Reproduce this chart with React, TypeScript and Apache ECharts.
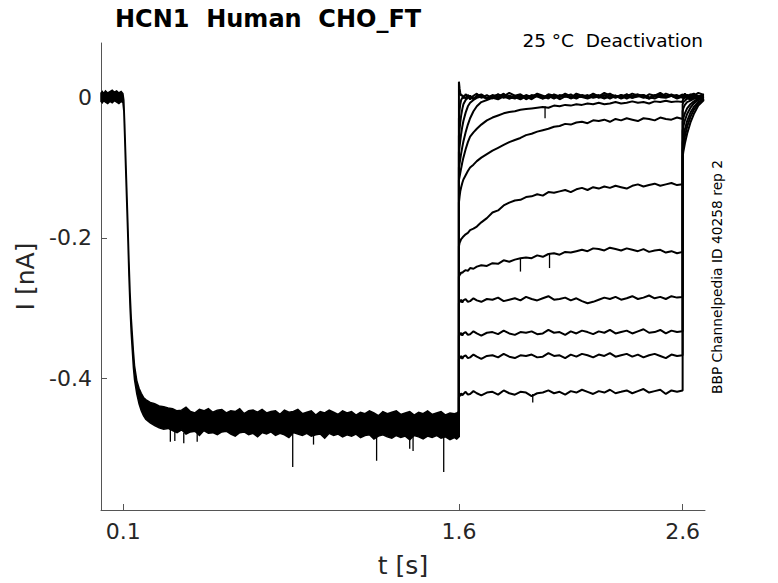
import React, { useEffect, useRef } from "react";
import * as echarts from "echarts";

const TITLE = "HCN1  Human  CHO_FT";
const SUBTITLE = "25 °C  Deactivation";
const SIDE_NOTE = "BBP Channelpedia ID 40258 rep 2";
const X_NAME = "t [s]";
const Y_NAME = "I [nA]";

const X_TICKS = [0.1, 1.6, 2.6];
const X_TICK_LABELS = ["0.1", "1.6", "2.6"];
const Y_TICKS = [-0.4, -0.2, 0];
const Y_TICK_LABELS = ["-0.4", "-0.2", "0"];
const X_RANGE = [0, 2.7];
const Y_RANGE = [-0.587, 0.077];

// common part of all sweeps (0 .. 1.6 s): noisy band, upper and lower edge
const HOLD_T = [
  0, 0.006, 0.012, 0.02, 0.03, 0.04, 0.05, 0.06, 0.07, 0.08, 0.09, 0.098,
  0.102, 0.106, 0.11, 0.115, 0.12, 0.125, 0.13, 0.135, 0.14, 0.145, 0.15, 0.16, 0.17, 0.18, 0.19, 0.2, 0.22, 0.24, 0.26, 0.28, 0.3,
  0.32, 0.34, 0.36, 0.38, 0.4, 0.42, 0.44, 0.46, 0.48, 0.5, 0.52, 0.54, 0.56, 0.58, 0.6, 0.62, 0.64, 0.66, 0.68, 0.7,
  0.72, 0.74, 0.76, 0.78, 0.8, 0.82, 0.84, 0.86, 0.88, 0.9, 0.92, 0.94, 0.96, 0.98, 1.0, 1.02, 1.04, 1.06, 1.08, 1.1,
  1.12, 1.14, 1.16, 1.18, 1.2, 1.22, 1.24, 1.26, 1.28, 1.3, 1.32, 1.34, 1.36, 1.38, 1.4, 1.42, 1.44, 1.46, 1.48, 1.5,
  1.52, 1.54, 1.56, 1.58, 1.59, 1.6,
];
const HOLD_HI = [
  0.006, 0.008, 0.005, 0.009, 0.006, 0.008, 0.01, 0.007, 0.009, 0.006, 0.008, 0.005,
  -0.004, -0.038, -0.078, -0.128, -0.178, -0.232, -0.278, -0.313, -0.338, -0.362, -0.382, -0.403, -0.414, -0.421, -0.427, -0.43, -0.434, -0.436, -0.439, -0.44, -0.442,
  -0.443, -0.446, -0.445, -0.441, -0.447, -0.449, -0.444, -0.446, -0.443, -0.448,
  -0.445, -0.444, -0.449, -0.446, -0.447, -0.443, -0.45, -0.446, -0.445, -0.448,
  -0.444, -0.449, -0.447, -0.446, -0.451, -0.445, -0.448, -0.447, -0.444, -0.45,
  -0.448, -0.446, -0.452, -0.447, -0.449, -0.445, -0.448, -0.451, -0.446, -0.449,
  -0.447, -0.452, -0.448, -0.45, -0.446, -0.449, -0.453, -0.447, -0.45, -0.448,
  -0.446, -0.451, -0.449, -0.447, -0.452, -0.448, -0.45, -0.446, -0.451, -0.449,
  -0.447, -0.452, -0.449, -0.45, -0.449, -0.447,
];
const HOLD_LO = [
  -0.006, -0.008, -0.005, -0.007, -0.009, -0.006, -0.008, -0.005, -0.007, -0.009, -0.006, -0.008,
  -0.02, -0.058, -0.1, -0.15, -0.2, -0.255, -0.3, -0.335, -0.36, -0.385, -0.402, -0.422, -0.436, -0.446, -0.453, -0.458, -0.463, -0.467, -0.47, -0.472, -0.471,
  -0.474, -0.477, -0.473, -0.479, -0.476, -0.475, -0.481, -0.474, -0.478, -0.477,
  -0.48, -0.476, -0.475, -0.479, -0.482, -0.477, -0.476, -0.48, -0.478, -0.483,
  -0.477, -0.479, -0.476, -0.481, -0.478, -0.48, -0.484, -0.477, -0.479, -0.481,
  -0.478, -0.482, -0.48, -0.479, -0.485, -0.478, -0.481, -0.479, -0.483, -0.48,
  -0.482, -0.479, -0.484, -0.481, -0.48, -0.486, -0.482, -0.48, -0.483, -0.485,
  -0.481, -0.484, -0.482, -0.487, -0.481, -0.483, -0.486, -0.482, -0.484, -0.481,
  -0.485, -0.483, -0.487, -0.484, -0.486, -0.483,
];

// brief glitches: time, from, to
const SPIKE_T = [0.31, 0.33, 0.37, 0.43, 0.857, 0.95, 1.232, 1.38, 1.395, 1.532, 1.875, 1.93, 1.985, 2.005];
const SPIKE_FROM = [-0.472, -0.475, -0.477, -0.478, -0.478, -0.48, -0.482, -0.482, -0.483, -0.484, -0.229, -0.422, -0.013, -0.223];
const SPIKE_TO = [-0.49, -0.489, -0.492, -0.49, -0.526, -0.494, -0.517, -0.5, -0.503, -0.533, -0.248, -0.434, -0.03, -0.243];

// test pulse (1.6 .. 2.6 s)
const TAIL_T = [
  1.6, 1.603, 1.606, 1.61, 1.615, 1.62, 1.63, 1.64, 1.65, 1.665, 1.68, 1.7,
  1.725, 1.75, 1.775, 1.8, 1.825, 1.85, 1.875, 1.9, 1.925, 1.95, 1.975, 2.0,
  2.025, 2.05, 2.075, 2.1, 2.125, 2.15, 2.175, 2.2, 2.225, 2.25, 2.275, 2.3,
  2.325, 2.35, 2.375, 2.4, 2.425, 2.45, 2.475, 2.5, 2.525, 2.55, 2.575, 2.6,
];
// after the pulse (2.6 .. 2.7 s)
const POST_T = [2.6, 2.603, 2.61, 2.62, 2.635, 2.65, 2.67, 2.695];

const TAIL_A = [0.022, 0.012, 0.006, 0.002, 0.003, -0.002, 0.004, 0.001, -0.003, 0.002, 0.005, -0.001, 0.003, -0.002, 0.004, 0.001, 0.006, 0.002, -0.001, 0.003, 0.0, 0.005, 0.002, -0.002, 0.004, 0.001, 0.003, -0.001, 0.005, 0.002, 0.0, 0.004, 0.001, 0.006, 0.002, -0.001, 0.003, 0.001, 0.005, 0.002, -0.001, 0.004, 0.002, 0.006, 0.001, 0.003, 0.0, 0.004];
const POST_A = [0.004, 0.002, 0.005, 0.001, 0.004, 0.002, 0.006, 0.003];
const TAIL_B = [-0.03, -0.018, -0.01, -0.004, -0.001, 0.002, -0.002, 0.003, 0.0, -0.003, 0.002, 0.004, -0.001, 0.003, 0.0, 0.005, -0.002, 0.002, 0.004, -0.001, 0.003, 0.001, -0.002, 0.004, 0.002, 0.0, 0.005, 0.001, -0.002, 0.003, 0.001, 0.004, -0.001, 0.002, 0.005, 0.0, 0.003, -0.002, 0.002, 0.004, 0.001, -0.001, 0.003, 0.0, 0.005, 0.002, -0.001, 0.003];
const POST_B = [0.003, 0.001, 0.004, 0.0, 0.003, 0.005, 0.001, 0.004];
const TAIL_C = [-0.055, -0.045, -0.036, -0.026, -0.017, -0.01, -0.004, -0.001, 0.002, -0.002, 0.001, 0.003, -0.002, 0.001, 0.004, -0.001, 0.002, 0.0, 0.003, -0.003, 0.001, 0.004, 0.0, 0.002, -0.002, 0.003, 0.001, 0.004, -0.001, 0.002, 0.0, 0.005, 0.001, -0.002, 0.003, 0.002, -0.001, 0.004, 0.0, 0.002, 0.003, -0.002, 0.001, 0.004, 0.0, 0.002, 0.003, -0.001];
const POST_C = [-0.001, 0.002, 0.0, 0.003, 0.001, 0.004, 0.0, 0.002];
const TAIL_D = [-0.078, -0.07, -0.062, -0.052, -0.042, -0.034, -0.022, -0.013, -0.008, -0.004, -0.001, 0.001, -0.002, 0.002, -0.001, 0.003, 0.0, -0.002, 0.002, 0.001, -0.003, 0.002, 0.0, 0.003, -0.001, 0.001, 0.004, -0.002, 0.002, 0.0, 0.003, -0.001, 0.001, 0.003, -0.002, 0.002, 0.0, 0.004, -0.001, 0.001, 0.003, 0.0, -0.002, 0.002, 0.001, 0.004, -0.001, 0.002];
const POST_D = [0.002, -0.001, 0.001, 0.003, 0.0, 0.002, -0.001, 0.002];
const TAIL_E = [-0.1, -0.094, -0.088, -0.08, -0.071, -0.063, -0.05, -0.039, -0.03, -0.02, -0.013, -0.007, -0.004, -0.001, -0.003, 0.001, -0.002, 0.0, -0.003, 0.001, -0.001, 0.002, -0.002, 0.0, 0.002, -0.003, 0.001, -0.001, 0.002, 0.0, -0.002, 0.001, 0.003, -0.001, 0.0, 0.002, -0.002, 0.001, -0.001, 0.003, 0.0, -0.002, 0.002, 0.0, -0.001, 0.002, -0.002, 0.001];
const POST_E = [0.001, -0.002, 0.0, 0.002, -0.001, 0.001, 0.002, 0.0];
const TAIL_F = [-0.118, -0.113, -0.108, -0.101, -0.093, -0.086, -0.074, -0.064, -0.056, -0.05, -0.045, -0.039, -0.033, -0.029, -0.026, -0.023, -0.021, -0.02, -0.018, -0.017, -0.016, -0.015, -0.014, -0.015, -0.012, -0.013, -0.011, -0.012, -0.01, -0.011, -0.009, -0.01, -0.008, -0.01, -0.009, -0.007, -0.009, -0.008, -0.006, -0.008, -0.007, -0.009, -0.006, -0.007, -0.005, -0.007, -0.006, -0.007];
const POST_F = [-0.005, -0.003, -0.001, 0.001, -0.002, 0.001, -0.001, 0.001];
const TAIL_G = [-0.15, -0.141, -0.134, -0.128, -0.122, -0.117, -0.111, -0.105, -0.1, -0.096, -0.091, -0.086, -0.081, -0.076, -0.072, -0.068, -0.064, -0.061, -0.058, -0.054, -0.052, -0.049, -0.047, -0.045, -0.042, -0.041, -0.038, -0.039, -0.036, -0.035, -0.037, -0.033, -0.034, -0.032, -0.035, -0.031, -0.033, -0.03, -0.032, -0.034, -0.03, -0.031, -0.033, -0.029, -0.031, -0.032, -0.029, -0.031];
const POST_G = [-0.01, -0.007, -0.005, -0.002, -0.003, 0.0, -0.002, 0.001];
const TAIL_H = [-0.212, -0.207, -0.205, -0.202, -0.2, -0.198, -0.195, -0.193, -0.189, -0.187, -0.184, -0.178, -0.172, -0.164, -0.161, -0.154, -0.15, -0.147, -0.146, -0.142, -0.141, -0.138, -0.14, -0.135, -0.136, -0.134, -0.132, -0.135, -0.131, -0.129, -0.132, -0.128, -0.13, -0.127, -0.129, -0.126, -0.128, -0.13, -0.126, -0.124, -0.127, -0.125, -0.123, -0.126, -0.124, -0.122, -0.125, -0.124];
const POST_H = [-0.02, -0.016, -0.011, -0.007, -0.005, -0.002, -0.003, 0.0];
const TAIL_I = [-0.255, -0.253, -0.252, -0.249, -0.25, -0.248, -0.246, -0.247, -0.243, -0.244, -0.241, -0.239, -0.24, -0.236, -0.237, -0.232, -0.234, -0.231, -0.229, -0.228, -0.229, -0.225, -0.227, -0.223, -0.222, -0.224, -0.22, -0.221, -0.219, -0.217, -0.219, -0.215, -0.216, -0.218, -0.214, -0.216, -0.218, -0.215, -0.217, -0.219, -0.216, -0.22, -0.218, -0.217, -0.221, -0.219, -0.222, -0.22];
const POST_I = [-0.035, -0.03, -0.023, -0.016, -0.01, -0.006, -0.003, -0.001];
const TAIL_J = [-0.293, -0.29, -0.291, -0.288, -0.292, -0.289, -0.287, -0.291, -0.29, -0.286, -0.289, -0.291, -0.287, -0.288, -0.285, -0.29, -0.288, -0.286, -0.289, -0.284, -0.287, -0.289, -0.286, -0.283, -0.288, -0.287, -0.285, -0.289, -0.286, -0.29, -0.293, -0.291, -0.288, -0.285, -0.287, -0.284, -0.288, -0.286, -0.283, -0.287, -0.285, -0.282, -0.286, -0.284, -0.287, -0.283, -0.285, -0.284];
const POST_J = [-0.048, -0.042, -0.033, -0.024, -0.015, -0.009, -0.004, -0.001];
const TAIL_K = [-0.339, -0.337, -0.338, -0.335, -0.339, -0.336, -0.334, -0.338, -0.337, -0.333, -0.336, -0.339, -0.335, -0.334, -0.337, -0.332, -0.336, -0.338, -0.334, -0.335, -0.333, -0.337, -0.336, -0.331, -0.335, -0.334, -0.338, -0.333, -0.336, -0.332, -0.334, -0.337, -0.333, -0.335, -0.331, -0.336, -0.334, -0.332, -0.336, -0.333, -0.33, -0.335, -0.334, -0.331, -0.336, -0.332, -0.334, -0.333];
const POST_K = [-0.065, -0.058, -0.046, -0.034, -0.022, -0.014, -0.007, -0.002];
const TAIL_L = [-0.372, -0.37, -0.371, -0.368, -0.372, -0.369, -0.367, -0.371, -0.37, -0.366, -0.369, -0.372, -0.368, -0.367, -0.37, -0.365, -0.369, -0.371, -0.367, -0.368, -0.366, -0.37, -0.369, -0.364, -0.368, -0.367, -0.371, -0.366, -0.369, -0.365, -0.367, -0.37, -0.366, -0.368, -0.364, -0.369, -0.367, -0.365, -0.369, -0.366, -0.37, -0.367, -0.365, -0.368, -0.371, -0.366, -0.368, -0.367];
const POST_L = [-0.075, -0.068, -0.056, -0.042, -0.028, -0.018, -0.009, -0.003];
const TAIL_M = [-0.427, -0.424, -0.425, -0.421, -0.424, -0.422, -0.419, -0.423, -0.422, -0.418, -0.421, -0.424, -0.42, -0.419, -0.423, -0.417, -0.421, -0.423, -0.419, -0.42, -0.425, -0.421, -0.42, -0.417, -0.421, -0.419, -0.423, -0.418, -0.42, -0.416, -0.419, -0.422, -0.418, -0.42, -0.416, -0.421, -0.419, -0.417, -0.421, -0.418, -0.415, -0.42, -0.418, -0.416, -0.422, -0.417, -0.419, -0.417];
const POST_M = [-0.085, -0.078, -0.066, -0.052, -0.036, -0.024, -0.012, -0.004];

const SWEEPS: [number[], number[]][] = [
  [TAIL_A, POST_A], [TAIL_B, POST_B], [TAIL_C, POST_C], [TAIL_D, POST_D],
  [TAIL_E, POST_E], [TAIL_F, POST_F], [TAIL_G, POST_G], [TAIL_H, POST_H],
  [TAIL_I, POST_I], [TAIL_J, POST_J], [TAIL_K, POST_K], [TAIL_L, POST_L],
  [TAIL_M, POST_M],
];

const FONT = "DejaVu Sans";
const INK = "#262626";

export default function App() {
  const ref = useRef<HTMLDivElement>(null);

  useEffect(() => {
    if (!ref.current) return;
    const chart = echarts.init(ref.current, undefined, { renderer: "svg" });
    const last = HOLD_T.length - 1;

    const sweepSeries = SWEEPS.map(([tail, post], k) => ({
      type: "line",
      name: "sweep" + k,
      showSymbol: false,
      silent: true,
      lineStyle: { color: "#000", width: 2 },
      data: [
        [HOLD_T[last], HOLD_LO[last]],
        ...tail.map((v, i) => [TAIL_T[i], v]),
        ...post.map((v, i) => [POST_T[i], v]),
      ],
      z: 3,
    }));

    chart.setOption({
      animation: false,
      backgroundColor: "#fff",
      grid: { left: 101, right: 73, top: 43, bottom: 72, containLabel: false },
      xAxis: {
        type: "value",
        min: X_RANGE[0],
        max: X_RANGE[1],
        name: X_NAME,
        nameLocation: "middle",
        nameGap: 43,
        nameTextStyle: { fontFamily: FONT, fontSize: 25, color: INK },
        axisLine: { show: true, onZero: false, lineStyle: { color: "#555", width: 1 } },
        axisTick: { show: true, inside: true, length: 6, customValues: X_TICKS, lineStyle: { color: "#555" } },
        axisLabel: {
          show: true,
          customValues: X_TICKS,
          margin: 10,
          fontFamily: FONT,
          fontSize: 22,
          color: INK,
          formatter: (v: number) => X_TICK_LABELS[X_TICKS.findIndex((t) => Math.abs(t - v) < 1e-9)] ?? "",
        },
        splitLine: { show: false },
      },
      yAxis: {
        type: "value",
        min: Y_RANGE[0],
        max: Y_RANGE[1],
        name: Y_NAME,
        nameLocation: "middle",
        nameRotate: 90,
        nameGap: 58,
        nameTextStyle: { fontFamily: FONT, fontSize: 25, color: INK },
        axisLine: { show: true, onZero: false, lineStyle: { color: "#555", width: 1 } },
        axisTick: { show: true, inside: true, length: 6, customValues: Y_TICKS, lineStyle: { color: "#555" } },
        axisLabel: {
          show: true,
          customValues: Y_TICKS,
          margin: 9,
          fontFamily: FONT,
          fontSize: 22,
          color: INK,
          formatter: (v: number) => Y_TICK_LABELS[Y_TICKS.findIndex((t) => Math.abs(t - v) < 1e-9)] ?? "",
        },
        splitLine: { show: false },
      },
      graphic: [
        {
          type: "text",
          left: 115,
          top: 7,
          style: { text: TITLE, fontFamily: FONT, fontSize: 24, fontWeight: "bold", fill: "#000" },
        },
        {
          type: "text",
          right: 75,
          top: 31,
          style: { text: SUBTITLE, fontFamily: FONT, fontSize: 18.5, fill: "#000" },
        },
        {
          type: "text",
          x: 717,
          y: 277,
          rotation: Math.PI / 2,
          style: { text: SIDE_NOTE, fontFamily: FONT, fontSize: 13.8, fill: "#000", align: "center", verticalAlign: "middle" },
        },
      ],
      series: [
        {
          type: "custom",
          name: "holding",
          silent: true,
          data: [[HOLD_T[0], HOLD_HI[0]]],
          encode: { x: 0, y: 1 },
          renderItem: (_params: any, api: any) => {
            const pts: number[][] = [];
            for (let i = 0; i < HOLD_T.length; i++) pts.push(api.coord([HOLD_T[i], HOLD_HI[i]]));
            for (let i = HOLD_T.length - 1; i >= 0; i--) pts.push(api.coord([HOLD_T[i], HOLD_LO[i]]));
            return { type: "polygon", shape: { points: pts }, style: { fill: "#000", stroke: "#000", lineWidth: 1.5 } };
          },
          z: 2,
        },
        {
          type: "custom",
          name: "glitches",
          silent: true,
          data: SPIKE_T.map((t, i) => [t, SPIKE_FROM[i], SPIKE_TO[i]]),
          encode: { x: 0, y: [1, 2] },
          renderItem: (_params: any, api: any) => {
            const a = api.coord([api.value(0), api.value(1)]);
            const b = api.coord([api.value(0), api.value(2)]);
            return { type: "line", shape: { x1: a[0], y1: a[1], x2: b[0], y2: b[1] }, style: { stroke: "#000", lineWidth: 1.3 } };
          },
          z: 2,
        },
        ...sweepSeries,
      ],
    });
    return () => chart.dispose();
  }, []);

  return (
    <div
      ref={ref}
      style={{ position: "absolute", left: 0, top: 0, width: 778, height: 583, background: "#fff" }}
    />
  );
}
